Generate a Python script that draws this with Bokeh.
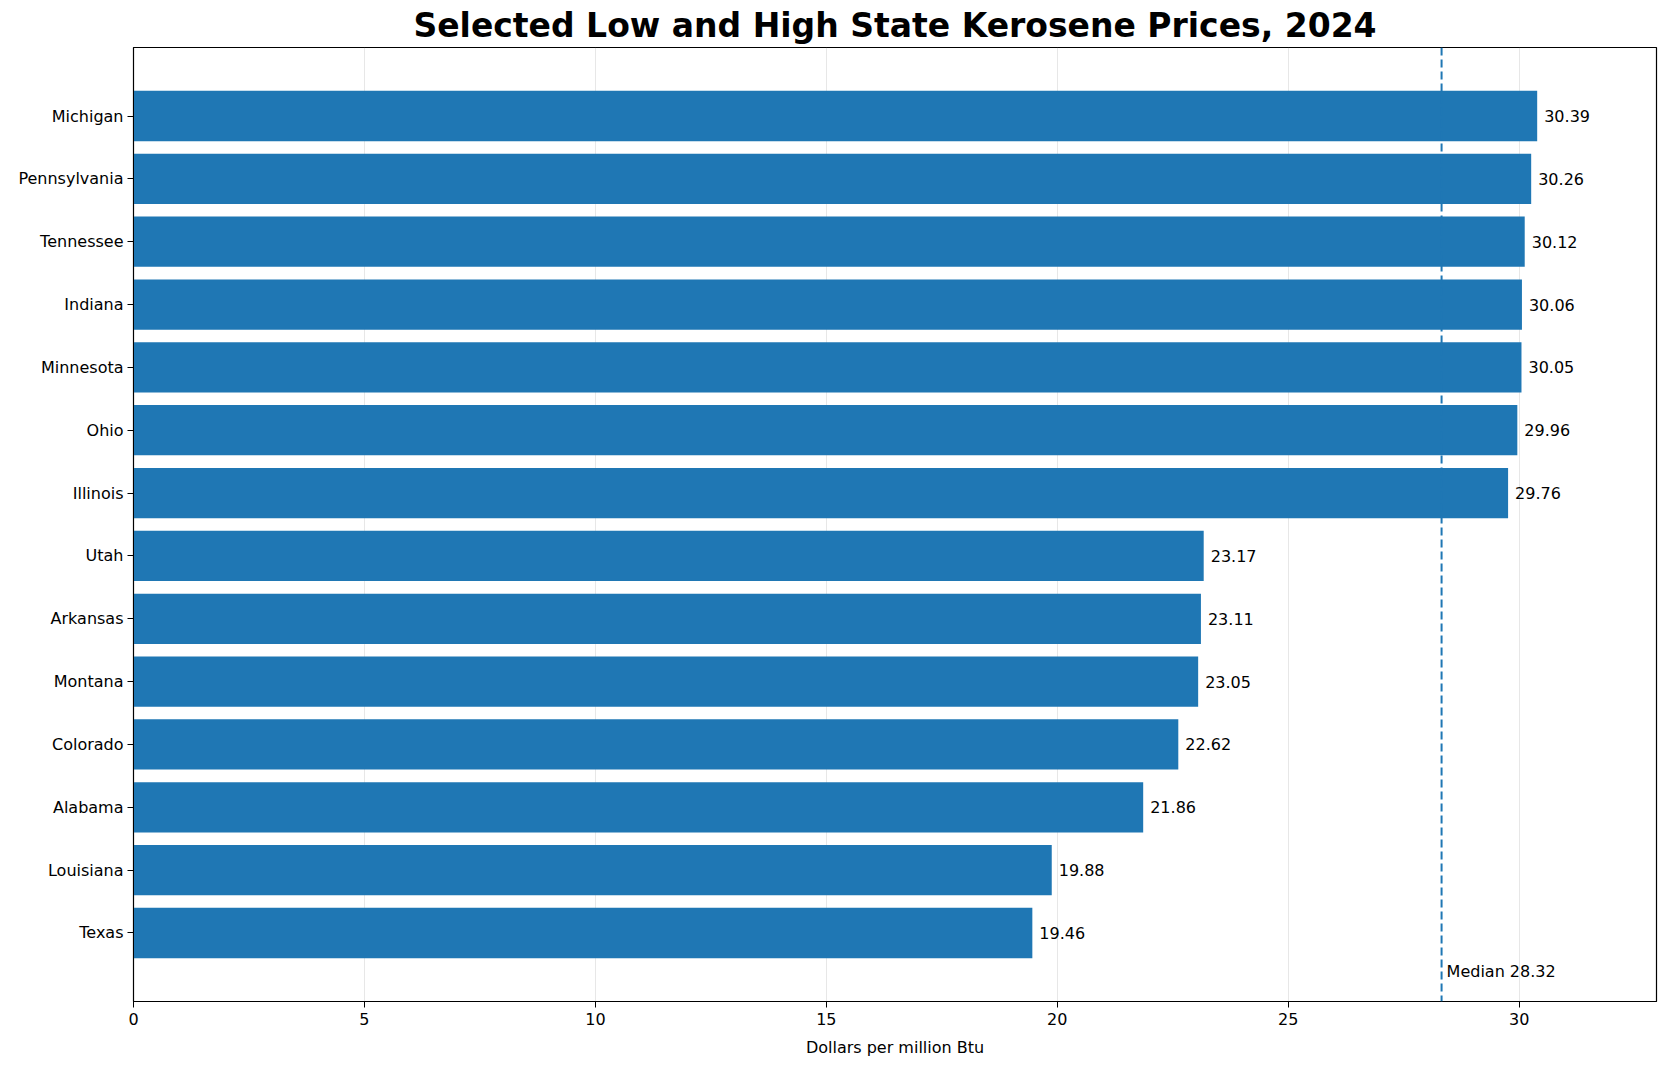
from bokeh.plotting import figure
from bokeh.models import FactorRange, Range1d, Span, SingleIntervalTicker, ColumnDataSource
from bokeh.core.properties import value
from bokeh.embed import file_html
from bokeh.resources import INLINE

# data, listed top to bottom as in the chart
states = ["Michigan", "Pennsylvania", "Tennessee", "Indiana", "Minnesota", "Ohio", "Illinois",
          "Utah", "Arkansas", "Montana", "Colorado", "Alabama", "Louisiana", "Texas"]
prices = [30.39, 30.26, 30.12, 30.06, 30.05, 29.96, 29.76,
          23.17, 23.11, 23.05, 22.62, 21.86, 19.88, 19.46]
median_price = 28.32

FONT = "DejaVu Sans"
BLUE = "#1f77b4"

src = ColumnDataSource(dict(state=states, price=prices,
                            label=["%.2f" % v for v in prices]))

p = figure(y_range=FactorRange(*states[::-1], range_padding=0.0843),
           x_range=Range1d(0, max(prices) * 1.085),
           frame_width=1523, frame_height=954,
           min_border_left=133, min_border_right=3, min_border_top=0, min_border_bottom=10,
           toolbar_location=None, output_backend="svg",
           title="Selected Low and High State Kerosene Prices, 2024")

p.title.text_font = FONT
p.title.text_font_size = "33px"
p.title.text_font_style = "bold"
p.title.align = "center"
p.title.text_color = "black"
p.title.standoff = 6

p.hbar(y="state", right="price", height=0.8, left=0, source=src,
       fill_color=BLUE, line_color=None)

p.text(x="price", y="state", text="label", source=src, x_offset=7,
       text_baseline="middle", text_align="left", text_font=value(FONT),
       text_font_size="16px", text_color="black")

med = Span(location=median_price, dimension="height", line_color=BLUE,
           line_width=2, line_dash="8 4")
p.add_layout(med)
p.text(x=[median_price], y=[(states[-1], -0.61)], text=["Median %.2f" % median_price],
       x_offset=5, text_baseline="middle", text_align="left", text_font=value(FONT),
       text_font_size="16px", text_color="black")

p.outline_line_color = "black"
p.outline_line_alpha = 1
p.outline_line_width = 1.2

p.ygrid.visible = False
p.xgrid.grid_line_color = "#b0b0b0"
p.xgrid.grid_line_alpha = 0.3
p.xaxis.ticker = SingleIntervalTicker(interval=5)
p.xaxis.axis_label = "Dollars per million Btu"
p.xaxis.axis_label_text_font = FONT
p.xaxis.axis_label_text_font_style = "normal"
p.xaxis.axis_label_text_font_size = "16px"
p.xaxis.axis_label_text_color = "black"
p.xaxis.axis_label_standoff = 10

for ax in (p.xaxis[0], p.yaxis[0]):
    ax.axis_line_color = "black"
    ax.major_tick_line_color = "black"
    ax.major_tick_out = 6
    ax.major_tick_in = 0
    ax.minor_tick_line_color = None
    ax.major_label_text_font = FONT
    ax.major_label_text_font_size = "16px"
    ax.major_label_text_color = "black"
    ax.major_label_standoff = 5

p.yaxis.major_label_standoff = 4

open("out.html", "w").write(file_html(p, INLINE))
